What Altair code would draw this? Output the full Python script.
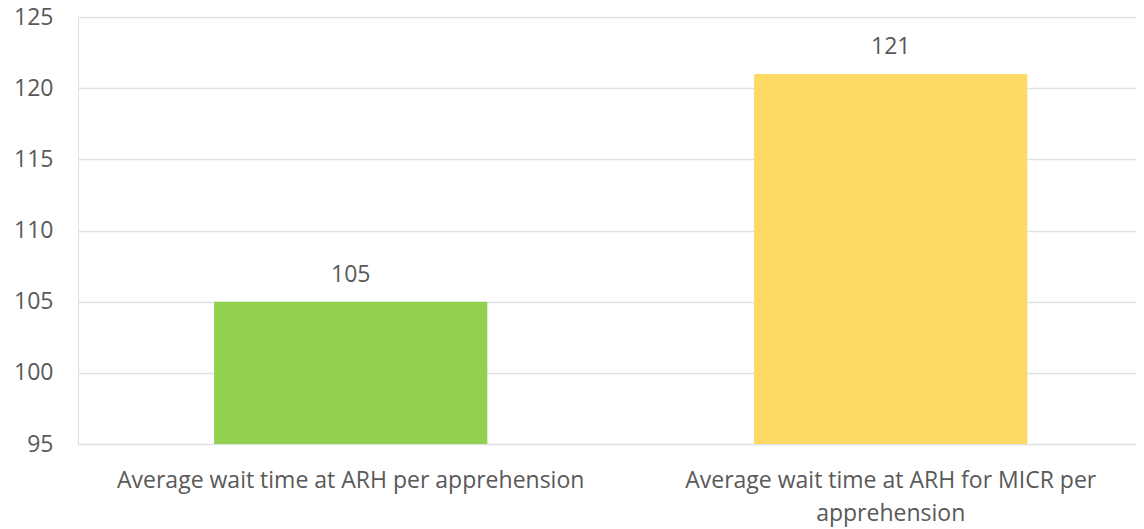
import altair as alt
import pandas as pd

categories = [
    "Average wait time at ARH per apprehension",
    "Average wait time at ARH for MICR per\napprehension",
]
values = [105, 121]
colors = ["#92D050", "#FFD966"]
y_ticks = [95, 100, 105, 110, 115, 120, 125]
baseline = 95

df = pd.DataFrame({"category": categories, "value": values, "color": colors})

font = "Open Sans"
text_color = "#595959"
fs = 23

x = alt.X(
    "category:N",
    sort=categories,
    title=None,
    scale=alt.Scale(paddingInner=0.494, paddingOuter=0.2266, align=0.556),
    axis=alt.Axis(
        labelAngle=0,
        labelExpr="split(datum.label, '\\n')",
        labelFont=font,
        labelFontSize=fs,
        labelColor=text_color,
        labelPadding=25,
        labelLineHeight=33,
        labelLimit=600,
        domain=False,
        ticks=False,
        grid=False,
    ),
)
y = alt.Y(
    "value:Q",
    title=None,
    scale=alt.Scale(domain=[95, 125], nice=False, zero=False),
    axis=alt.Axis(
        values=y_ticks,
        labelFont=font,
        labelFontSize=fs,
        labelColor=text_color,
        labelPadding=25,
        domain=False,
        ticks=False,
        grid=True,
        gridColor="#DDE1E6",
        gridWidth=1.5,
    ),
)

bars = alt.Chart(df).mark_bar().encode(
    x=x,
    y=y,
    y2=alt.datum(baseline),
    color=alt.Color("color:N", scale=None),
)
labels = alt.Chart(df).mark_text(
    baseline="alphabetic", dy=-20, font=font, fontSize=fs, color=text_color
).encode(x=x, y=y, text=alt.Text("value:Q"))

chart = (
    (bars + labels)
    .properties(
        width=1058,
        height=427,
        padding={"left": 70, "top": 9, "right": 0, "bottom": 84},
        autosize=alt.AutoSizeParams(type="none"),
    )
    .configure_view(strokeWidth=0, strokeOpacity=0)
    .configure(background="white")
)

chart.save("out.html", embed_options={"renderer": "svg", "actions": False})
